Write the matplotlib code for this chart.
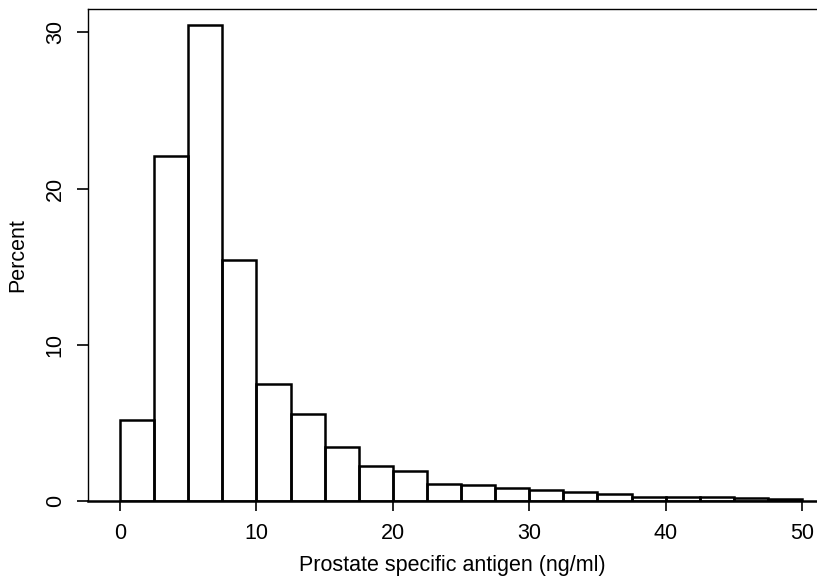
import numpy as np
import matplotlib.pyplot as plt

plt.rcParams['font.family'] = ['Liberation Sans', 'DejaVu Sans']

# Histogramme : bornes des classes et pourcentages
bin_edges = np.arange(0, 50.01, 2.5)
percent = [5.2, 22.1, 30.5, 15.4, 7.5, 5.55, 3.45, 2.26, 1.9, 1.09,
           1.0, 0.81, 0.68, 0.58, 0.43, 0.28, 0.28, 0.26, 0.21, 0.15]
x_ticks = [0, 10, 20, 30, 40, 50]
y_ticks = [0, 10, 20, 30]

fig = plt.figure(figsize=(8.17, 5.79), dpi=100)
ax = fig.add_axes([88 / 817, 1 - 501 / 579, 1 - 88 / 817, (501 - 9) / 579])

ax.bar(bin_edges[:-1], percent, width=2.5, align='edge', fill=False,
       edgecolor='black', linewidth=1.8)

ax.set_xlim(-2.35, 51.1)
ax.set_ylim(0, 31.5)
ax.set_xticks(x_ticks)
ax.set_yticks(y_ticks)
ax.set_yticklabels([str(v) for v in y_ticks], rotation=90, va='center')
ax.tick_params(axis='x', length=7, width=1.2, pad=9, labelsize=15.5)
ax.tick_params(axis='y', length=8, width=1.2, pad=8, labelsize=15.5)

ax.spines['right'].set_visible(False)
ax.spines['top'].set_linewidth(1.0)
ax.spines['left'].set_linewidth(1.0)
ax.spines['bottom'].set_linewidth(1.8)

ax.set_xlabel('Prostate specific antigen (ng/ml)', fontsize=15.5, labelpad=8)
ax.set_ylabel('Percent', fontsize=15.5, labelpad=12)

fig.savefig('out.png', dpi=100)
